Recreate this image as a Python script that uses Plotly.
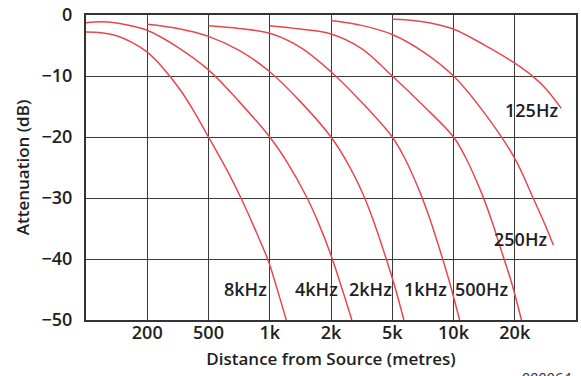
import plotly.graph_objects as go

# x values are positions on the stepped (1-2-5) distance scale:
# 0=100 m, 1=200 m, 2=500 m, 3=1 km, 4=2 km, 5=5 km, 6=10 km, 7=20 km, 8=50 km
tick_pos = [1, 2, 3, 4, 5, 6, 7]
tick_text = ["200", "500", "1k", "2k", "5k", "10k", "20k"]
y_ticks = [0, -10, -20, -30, -40, -50]

x_8k = [0, 0.25, 0.5, 0.75, 1.0, 1.25, 1.54, 1.75, 2.0, 2.3, 2.52, 2.75, 2.98, 3.12, 3.27]
y_8k = [-2.8, -2.9, -3.4, -4.5, -6.1, -8.6, -12.3, -15.6, -20, -25.4, -29.8, -34.9, -40.4, -44.9, -50]

x_4k = [0, 0.25, 0.5, 0.75, 1.0, 1.5, 2.0, 2.5, 3.0, 3.3, 3.6, 3.8, 4.0, 4.34]
y_4k = [-1.26, -1.1, -1.3, -1.8, -2.5, -5.3, -9.0, -14.2, -20, -24.4, -29.8, -34.2, -39.4, -50]

x_2k = [1.0, 1.5, 2.0, 2.5, 3.0, 3.5, 4.0, 4.3, 4.55, 4.72, 4.87, 5.03, 5.19]
y_2k = [-1.5, -2.2, -3.5, -5.8, -9.3, -14.2, -20, -24.8, -30, -34.5, -39, -44.1, -50]

x_1k = [2.0, 2.5, 3.0, 3.5, 4.0, 4.5, 5.0, 5.2, 5.45, 5.62, 5.78, 5.93, 6.1]
y_1k = [-1.75, -2.2, -3.0, -5.3, -9.3, -14.3, -20, -23.4, -29.0, -33.6, -38.6, -43.6, -50]

x_500 = [3.0, 3.5, 4.0, 4.5, 5.0, 5.5, 6.0, 6.2, 6.45, 6.62, 6.78, 6.94, 7.11]
y_500 = [-1.75, -2.3, -3.1, -5.5, -10, -14.8, -20, -23.4, -29.0, -33.6, -38.6, -43.6, -50]

x_250 = [4.0, 4.5, 5.0, 5.5, 6.0, 6.5, 7.0, 7.3, 7.5, 7.63]
y_250 = [-0.9, -1.7, -3.2, -6.0, -10, -16, -23.5, -30, -34.5, -37.7]

x_125 = [5.0, 5.25, 5.5, 5.75, 6.0, 6.5, 7.0, 7.3, 7.5, 7.76]
y_125 = [-0.7, -0.8, -1.1, -1.6, -2.3, -4.9, -7.9, -10.1, -12.0, -15.3]

series = [
    ("8kHz", x_8k, y_8k),
    ("4kHz", x_4k, y_4k),
    ("2kHz", x_2k, y_2k),
    ("1kHz", x_1k, y_1k),
    ("500Hz", x_500, y_500),
    ("250Hz", x_250, y_250),
    ("125Hz", x_125, y_125),
]

label_text = ["8kHz", "4kHz", "2kHz", "1kHz", "500Hz", "250Hz", "125Hz"]
label_x = [2.96, 4.12, 4.99, 5.89, 6.89, 7.52, 7.71]
label_y = [-44.9, -44.9, -44.9, -44.9, -44.9, -36.8, -15.6]

RED = "#e8474f"
TXT = "#1e1e24"
FONT = "Open Sans"
FS = 18
W = 600

fig = go.Figure()
for name, xs, ys in series:
    fig.add_trace(go.Scatter(x=xs, y=ys, mode="lines", name=name,
                             line=dict(color=RED, width=1.5, shape="spline", smoothing=1.0),
                             hoverinfo="skip"))

for t, lx, ly in zip(label_text, label_x, label_y):
    fig.add_annotation(x=lx, y=ly, text=t, showarrow=False, xanchor="right", yanchor="middle",
                       xshift=2, font=dict(family=FONT, size=FS, color=TXT, weight=W))

fig.add_annotation(xref="paper", yref="paper", x=(519 - 86) / 490.0, y=-(365 - 320) / 305.0,
                   text="<i>000064</i>", showarrow=False, xanchor="left", yanchor="top",
                   font=dict(family=FONT, size=15, color="#333344"))

fig.update_xaxes(range=[0, 8], tickvals=tick_pos, ticktext=tick_text,
                 showgrid=True, gridcolor="#3a3a3a", gridwidth=1,
                 showline=True, linecolor="#333333", linewidth=2, mirror=True,
                 ticks="", ticklabelstandoff=-5, zeroline=False,
                 tickfont=dict(family=FONT, size=FS, color=TXT, weight=W),
                 title=dict(text="Distance from Source (metres)", standoff=11,
                            font=dict(family=FONT, size=17, color=TXT, weight=W)))
fig.update_yaxes(range=[-50, 0], tickvals=y_ticks,
                 showgrid=True, gridcolor="#3a3a3a", gridwidth=1,
                 showline=True, linecolor="#333333", linewidth=2, mirror=True,
                 ticks="", ticklabelstandoff=8, zeroline=False,
                 tickfont=dict(family=FONT, size=FS, color=TXT, weight=W),
                 title=dict(text="Attenuation (dB)", standoff=8,
                            font=dict(family=FONT, size=17, color=TXT, weight=W)))

fig.update_layout(width=581, height=376, margin=dict(l=86, r=5, t=15, b=56, autoexpand=False),
                  plot_bgcolor="white", paper_bgcolor="white", showlegend=False,
                  font=dict(family=FONT, size=FS, color=TXT))

fig.write_html("out.html")
